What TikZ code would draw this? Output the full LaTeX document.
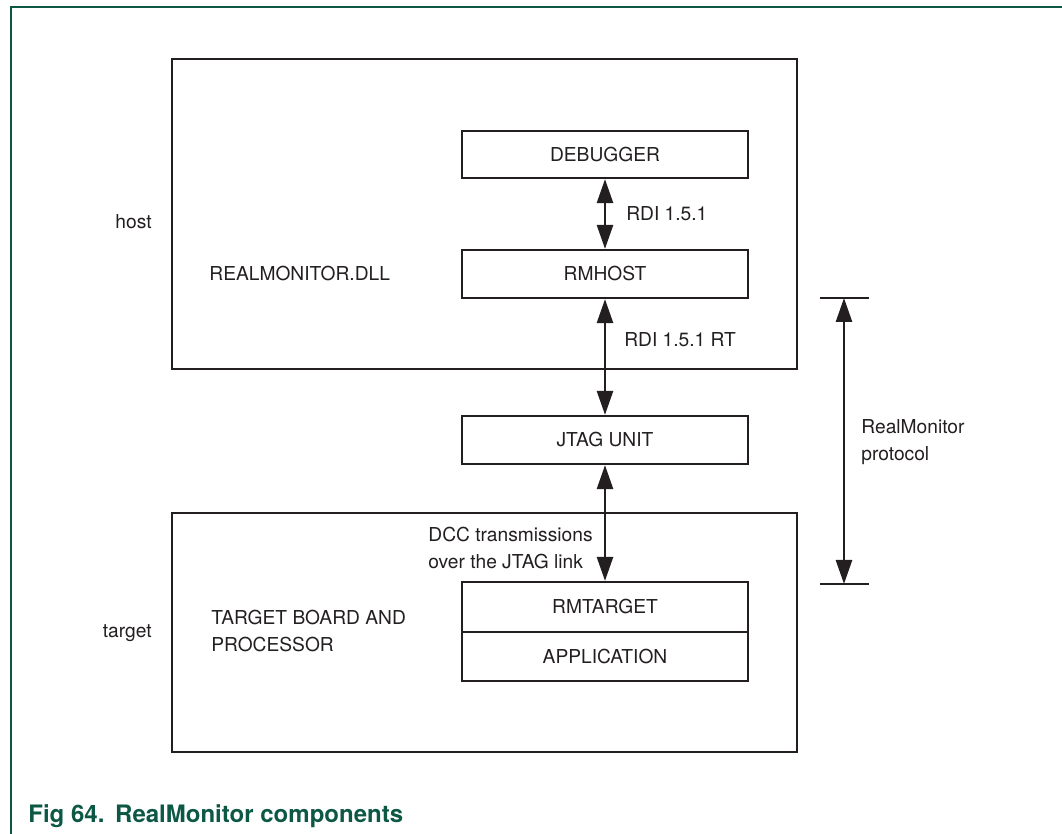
\documentclass[tikz,border=0pt]{standalone}
\usepackage{fontspec}
\setmainfont{TeX Gyre Heros}
\usetikzlibrary{arrows.meta}
\definecolor{figgreen}{RGB}{12,88,68}
\definecolor{ink}{RGB}{35,31,32}
\tikzset{
    box/.style={draw=ink, line width=1.1pt, minimum width=143pt, inner sep=0pt, font=\fontsize{9.6}{13.5}\selectfont, text=ink},
    link/.style={{Triangle[length=12pt,width=8pt]}-{Triangle[length=12pt,width=8pt]}, line width=1.3pt, ink},
    dimtick/.style={line width=1.1pt, ink},
    lbl/.style={inner sep=0pt, font=\fontsize{9.6}{13.5}\selectfont, text=ink, align=left},
    frame/.style={figgreen, line width=1pt}
}

\begin{document}
\begin{tikzpicture}[x=0.5pt, y=-0.5pt]
    \useasboundingbox (0,0) rectangle (1062,834);
    % Frame
    \draw[frame] (1062,7) -- (10.5,7) -- (10.5,834);

    % Host side
    \node[box, minimum width=312.5pt, minimum height=155pt] (hostbox) at (484.5,214) {};
    \node[box, minimum height=23.5pt] (dbg) at (605,154.5) {DEBUGGER};
    \node[box, minimum height=24pt] (rmhost) at (605,274) {RMHOST};
    \node[lbl, anchor=east] (hostlbl) at (152,222) {host};
    \node[lbl, anchor=west] (dll) at (209,274) {REALMONITOR.DLL};

    % JTAG
    \node[box, minimum height=24pt] (jtag) at (605,440) {JTAG UNIT};

    % Target side
    \node[box, minimum width=312.5pt, minimum height=119.5pt] (targetbox) at (484.5,632.5) {};
    \node[box, minimum height=25pt] (rmtarget) at (605,607) {RMTARGET};
    \node[box, minimum height=24.5pt] (app) at (605,656.5) {APPLICATION};
    \node[lbl, anchor=east] (targetlbl) at (152,633) {target};
    \node[lbl, anchor=west] (board) at (211,631.5) {TARGET BOARD AND\\PROCESSOR};

    % Links
    \draw[link] (dbg.south) -- (rmhost.north) node[lbl, anchor=west, pos=0.5, xshift=10pt]{RDI 1.5.1};
    \draw[link] (rmhost.south) -- (jtag.north) node[lbl, anchor=west, pos=0.35, xshift=9pt]{RDI 1.5.1 RT};
    \draw[link] (jtag.south) -- (rmtarget.north);
    \node[lbl, anchor=west] (dcc) at (428,548.5) {DCC transmissions\\over the JTAG link};

    % RealMonitor protocol
    \coordinate (dimtop) at (844,298);
    \coordinate (dimbot) at (844,584);
    \draw[dimtick] (820,298) -- (869,298);
    \draw[dimtick] (820,584) -- (869,584);
    \draw[link] (dimtop) -- (dimbot);
    \node[lbl, anchor=west] (proto) at (861,442) {RealMonitor\\protocol};

    % Caption
    \node[anchor=base west, inner sep=0pt, font=\fontsize{12}{14}\selectfont\bfseries, text=figgreen] (caption) at (28,822) {Fig 64.\hspace{0.45em}RealMonitor components};
\end{tikzpicture}
\end{document}
